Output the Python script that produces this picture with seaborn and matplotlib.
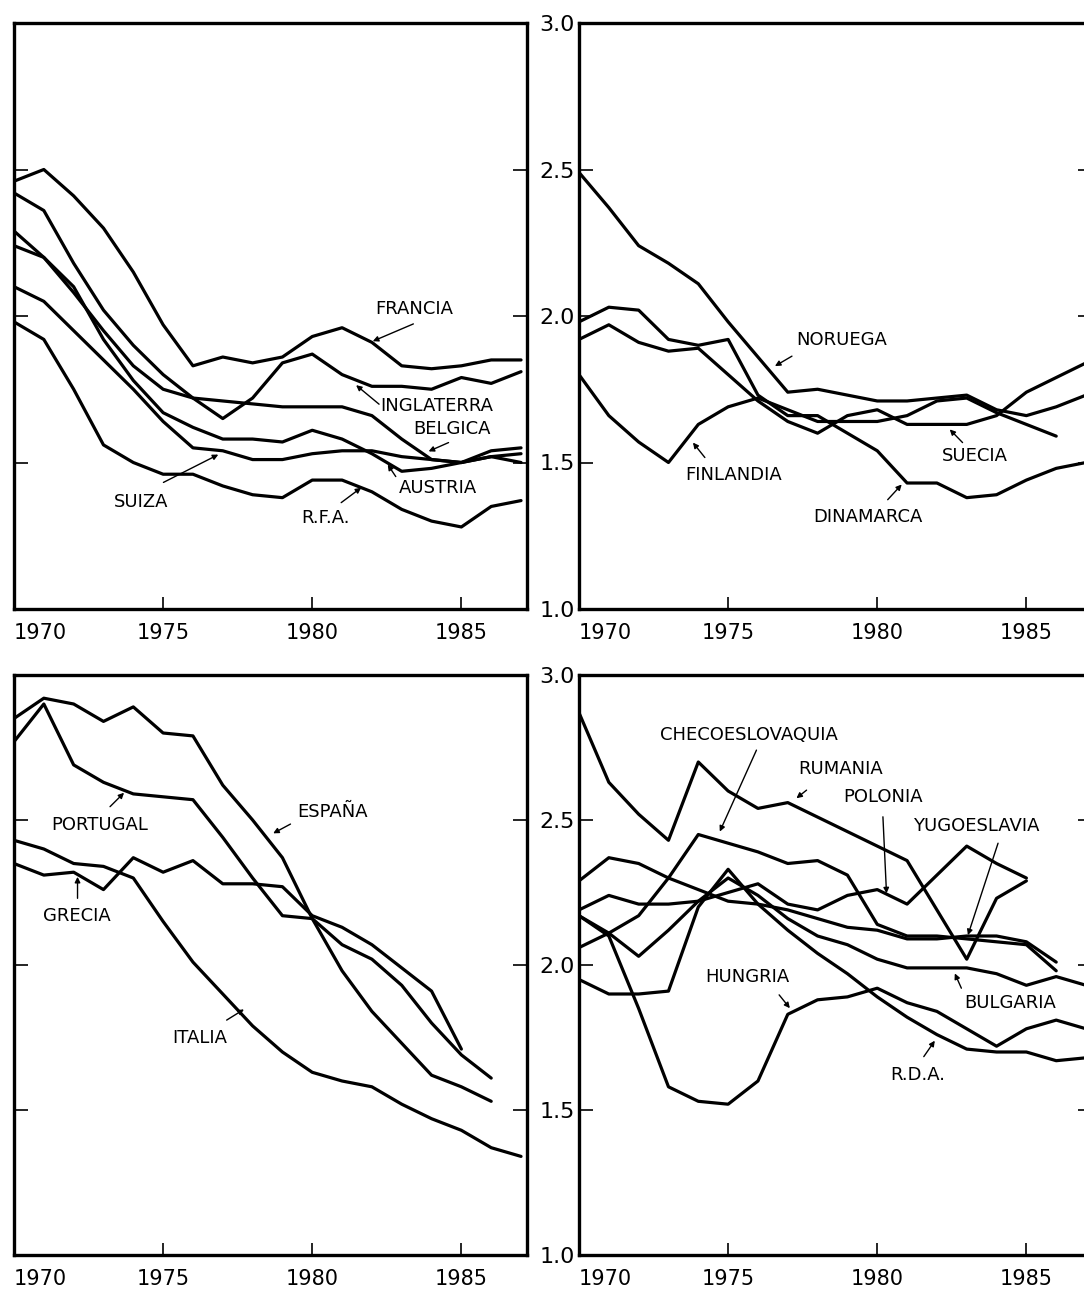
import pandas as pd
import seaborn as sns
import matplotlib.pyplot as plt

sns.set_style("ticks")
plt.rcParams["font.family"] = ["DejaVu Sans"]
plt.rcParams["text.color"] = "black"
plt.rcParams["xtick.color"] = "black"
plt.rcParams["ytick.color"] = "black"

years = list(range(1970, 1988))
xticks = [1970, 1975, 1980, 1985]
yticks = [1.0, 1.5, 2.0, 2.5, 3.0]

# arriba izquierda
francia = [2.46, 2.50, 2.41, 2.30, 2.15, 1.97, 1.83, 1.86, 1.84, 1.86, 1.93, 1.96, 1.91, 1.83, 1.82, 1.83, 1.85, 1.85]
inglaterra = [2.42, 2.36, 2.18, 2.02, 1.90, 1.80, 1.72, 1.65, 1.72, 1.84, 1.87, 1.80, 1.76, 1.76, 1.75, 1.79, 1.77, 1.81]
belgica = [2.24, 2.20, 2.08, 1.95, 1.83, 1.75, 1.72, 1.71, 1.70, 1.69, 1.69, 1.69, 1.66, 1.58, 1.51, 1.50, 1.54, 1.55]
austria = [2.29, 2.20, 2.10, 1.92, 1.78, 1.67, 1.62, 1.58, 1.58, 1.57, 1.61, 1.58, 1.53, 1.47, 1.48, 1.50, 1.52, 1.50]
suiza = [2.10, 2.05, 1.95, 1.85, 1.75, 1.64, 1.55, 1.54, 1.51, 1.51, 1.53, 1.54, 1.54, 1.52, 1.51, 1.50, 1.52, 1.53]
rfa = [1.98, 1.92, 1.75, 1.56, 1.50, 1.46, 1.46, 1.42, 1.39, 1.38, 1.44, 1.44, 1.40, 1.34, 1.30, 1.28, 1.35, 1.37]

# arriba derecha
noruega = [2.49, 2.37, 2.24, 2.18, 2.11, 1.98, 1.86, 1.74, 1.75, 1.73, 1.71, 1.71, 1.72, 1.73, 1.68, 1.66, 1.69, 1.73]
suecia = [1.92, 1.97, 1.91, 1.88, 1.89, 1.80, 1.71, 1.64, 1.60, 1.66, 1.68, 1.63, 1.63, 1.63, 1.66, 1.74, 1.79, 1.84]
dinamarca = [1.98, 2.03, 2.02, 1.92, 1.90, 1.92, 1.73, 1.66, 1.66, 1.60, 1.54, 1.43, 1.43, 1.38, 1.39, 1.44, 1.48, 1.50]
finlandia = [1.80, 1.66, 1.57, 1.50, 1.63, 1.69, 1.72, 1.68, 1.64, 1.64, 1.64, 1.66, 1.71, 1.72, 1.67, 1.63, 1.59]

# abajo izquierda
espana = [2.85, 2.92, 2.90, 2.84, 2.89, 2.80, 2.79, 2.62, 2.50, 2.37, 2.16, 1.98, 1.84, 1.73, 1.62, 1.58, 1.53]
portugal = [2.77, 2.90, 2.69, 2.63, 2.59, 2.58, 2.57, 2.44, 2.30, 2.17, 2.16, 2.07, 2.02, 1.93, 1.80, 1.69, 1.61]
grecia = [2.35, 2.31, 2.32, 2.26, 2.37, 2.32, 2.36, 2.28, 2.28, 2.27, 2.17, 2.13, 2.07, 1.99, 1.91, 1.71]
italia = [2.43, 2.40, 2.35, 2.34, 2.30, 2.15, 2.01, 1.90, 1.79, 1.70, 1.63, 1.60, 1.58, 1.52, 1.47, 1.43, 1.37, 1.34]

# abajo derecha
rumania = [2.87, 2.63, 2.52, 2.43, 2.70, 2.60, 2.54, 2.56, 2.51, 2.46, 2.41, 2.36, 2.19, 2.02, 2.23, 2.29]
polonia = [2.19, 2.24, 2.21, 2.21, 2.22, 2.25, 2.28, 2.21, 2.19, 2.24, 2.26, 2.21, 2.31, 2.41, 2.35, 2.30]
checoeslovaquia = [2.06, 2.11, 2.17, 2.30, 2.45, 2.42, 2.39, 2.35, 2.36, 2.31, 2.14, 2.10, 2.10, 2.09, 2.08, 2.07, 1.98]
yugoeslavia = [2.29, 2.37, 2.35, 2.30, 2.26, 2.22, 2.21, 2.19, 2.16, 2.13, 2.12, 2.09, 2.09, 2.10, 2.10, 2.08, 2.01]
hungria = [2.17, 2.10, 1.85, 1.58, 1.53, 1.52, 1.60, 1.83, 1.88, 1.89, 1.92, 1.87, 1.84, 1.78, 1.72, 1.78, 1.81, 1.78]
rda = [1.95, 1.90, 1.90, 1.91, 2.20, 2.33, 2.21, 2.12, 2.04, 1.97, 1.89, 1.82, 1.76, 1.71, 1.70, 1.70, 1.67, 1.68]
bulgaria = [2.17, 2.11, 2.03, 2.12, 2.22, 2.30, 2.24, 2.16, 2.10, 2.07, 2.02, 1.99, 1.99, 1.99, 1.97, 1.93, 1.96, 1.93]

# etiquetas: texto (x izq, y), flecha (cola, punta)
labels_tl = [
    ("FRANCIA", (1982.1, 2.024), (1983.39, 1.973), (1982.03, 1.914)),
    ("INGLATERRA", (1982.29, 1.692), (1982.24, 1.699), (1981.47, 1.764)),
    ("BELGICA", (1983.40, 1.613), (1984.57, 1.568), (1983.90, 1.538)),
    ("AUSTRIA", (1982.90, 1.414), (1982.80, 1.452), (1982.53, 1.493)),
    ("R.F.A.", (1979.63, 1.312), (1980.97, 1.363), (1981.64, 1.414)),
    ("SUIZA", (1973.34, 1.366), (1975.01, 1.432), (1976.85, 1.527)),
]
labels_tr = [
    ("NORUEGA", (1977.30, 1.918), (1977.14, 1.863), (1976.57, 1.829)),
    ("FINLANDIA", (1973.55, 1.459), (1974.22, 1.517), (1973.82, 1.568)),
    ("SUECIA", (1982.16, 1.521), (1982.86, 1.568), (1982.43, 1.613)),
    ("DINAMARCA", (1977.84, 1.315), (1980.35, 1.373), (1980.82, 1.425)),
]
labels_bl = [
    ("PORTUGAL", (1971.26, 2.483), (1973.22, 2.546), (1973.69, 2.594)),
    ("ESPAÑA", (1979.49, 2.526), (1979.27, 2.486), (1978.69, 2.454)),
    ("GRECIA", (1970.97, 2.169), (1972.13, 2.230), (1972.13, 2.304)),
    ("ITALIA", (1975.29, 1.748), (1977.13, 1.810), (1977.71, 1.847)),
]
labels_br = [
    ("CHECOESLOVAQUIA", (1972.71, 2.793), (1975.95, 2.741), (1974.72, 2.460)),
    ("RUMANIA", (1977.35, 2.676), (1977.63, 2.603), (1977.29, 2.575)),
    ("POLONIA", (1978.85, 2.578), (1980.19, 2.511), (1980.31, 2.247)),
    ("YUGOESLAVIA", (1981.20, 2.479), (1984.05, 2.420), (1983.04, 2.103)),
    ("HUNGRIA", (1974.22, 1.960), (1976.71, 1.897), (1977.07, 1.851)),
    ("BULGARIA", (1982.93, 1.869), (1982.82, 1.920), (1982.60, 1.971)),
    ("R.D.A.", (1980.42, 1.621), (1981.56, 1.684), (1981.93, 1.739)),
]

panels = [
    ({"FRANCIA": francia, "INGLATERRA": inglaterra, "BELGICA": belgica,
      "AUSTRIA": austria, "SUIZA": suiza, "R.F.A.": rfa}, labels_tl),
    ({"NORUEGA": noruega, "SUECIA": suecia, "DINAMARCA": dinamarca,
      "FINLANDIA": finlandia}, labels_tr),
    ({"ESPAÑA": espana, "PORTUGAL": portugal, "GRECIA": grecia,
      "ITALIA": italia}, labels_bl),
    ({"RUMANIA": rumania, "POLONIA": polonia, "CHECOESLOVAQUIA": checoeslovaquia,
      "YUGOESLAVIA": yugoeslavia, "HUNGRIA": hungria, "R.D.A.": rda,
      "BULGARIA": bulgaria}, labels_br),
]

W, H = 1084, 1302
fig = plt.figure(figsize=(W / 100, H / 100), dpi=100)
fig.patch.set_facecolor("white")

# posiciones en pixeles: izquierda, arriba(3.0), abajo(1.0)
boxes = [(14, 23, 609), (579, 23, 609), (14, 675, 1255), (579, 675, 1255)]
width_px = 513

for i, ((series, labels), (lx, top, bot)) in enumerate(zip(panels, boxes)):
    ax = fig.add_axes([lx / W, (H - bot) / H, width_px / W, (bot - top) / H])
    rows = []
    for name, vals in series.items():
        for yr, v in zip(years, vals):
            rows.append((name, yr, v))
    df = pd.DataFrame(rows, columns=["pais", "anio", "tfr"])
    sns.lineplot(data=df, x="anio", y="tfr", units="pais", estimator=None,
                 color="black", linewidth=2.3, legend=False, ax=ax)

    ax.set_xlim(1970, 1987.2)
    ax.set_ylim(1.0, 3.0)
    ax.set_xlabel("")
    ax.set_ylabel("")
    for sp in ax.spines.values():
        sp.set_linewidth(2.4)
        sp.set_color("black")
        sp.set_visible(True)

    ax.set_xticks(xticks)
    ax.set_xticklabels([str(t) for t in xticks])
    ax.tick_params(axis="x", direction="in", length=9, width=1.2,
                   labelsize=15, pad=10, labelcolor="black")
    ax.get_xticklabels()[0].set_horizontalalignment("left")

    ax.set_yticks(yticks)
    right_col = i % 2 == 1
    ax.tick_params(axis="y", direction="in", length=10, width=1.2,
                   left=True, right=True, labelleft=right_col,
                   labelsize=16, pad=3, labelcolor="black")
    if right_col:
        ax.set_yticklabels([f"{t:.1f}" for t in yticks])

    for name, txt_pos, tail, tip in labels:
        ax.text(txt_pos[0], txt_pos[1], name, ha="left", va="center",
                fontsize=13, color="black")
        ax.annotate("", xy=tip, xytext=tail,
                    arrowprops=dict(arrowstyle="-|>", color="black", lw=1.0,
                                    mutation_scale=8, shrinkA=0, shrinkB=0))

fig.savefig("out.png", dpi=100, facecolor="white")
